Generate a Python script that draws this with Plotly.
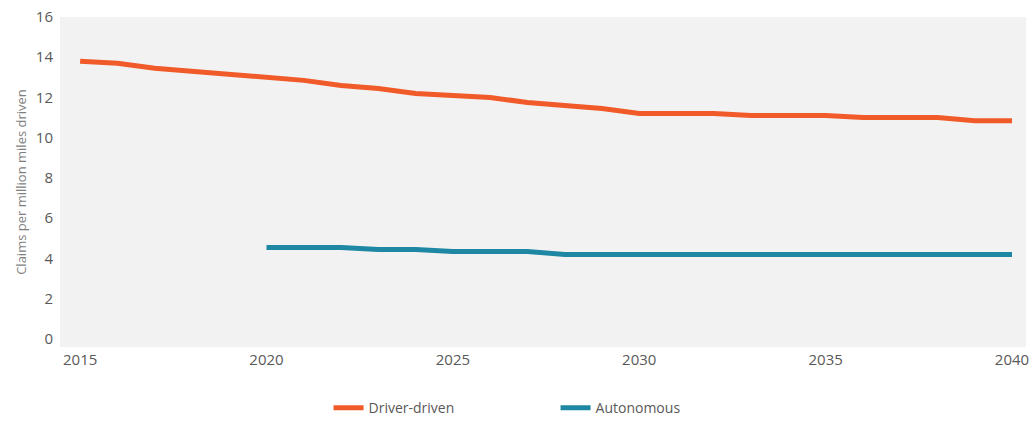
import plotly.graph_objects as go

# Claims per million miles driven, by year
years_driver = list(range(2015, 2041))
claims_driver = [13.8, 13.7, 13.45, 13.3, 13.1, 13.0, 12.85, 12.6, 12.45, 12.2,
                 12.1, 12.0, 11.75, 11.6, 11.45, 11.2, 11.2, 11.2, 11.1, 11.1,
                 11.1, 11.0, 11.0, 11.0, 10.85, 10.85]

years_auto = list(range(2020, 2041))
claims_auto = [4.55, 4.55, 4.55, 4.45, 4.45, 4.35, 4.35, 4.35, 4.2, 4.2,
               4.2, 4.2, 4.2, 4.2, 4.2, 4.2, 4.2, 4.2, 4.2, 4.2, 4.2]

x_ticks = [2015, 2020, 2025, 2030, 2035, 2040]
y_ticks = [0, 2, 4, 6, 8, 10, 12, 14, 16]

ORANGE = "#F15A29"
TEAL = "#1D87A4"
FONT = "Open Sans"

fig = go.Figure()
fig.add_trace(go.Scatter(
    x=years_driver, y=claims_driver, mode="lines", name="Driver-driven",
    line=dict(color=ORANGE, width=5),
))
fig.add_trace(go.Scatter(
    x=years_auto, y=claims_auto, mode="lines", name="Autonomous",
    line=dict(color=TEAL, width=5),
))

fig.update_layout(
    width=1029, height=421,
    margin=dict(l=60, r=3, t=17, b=74, autoexpand=False),
    paper_bgcolor="white",
    plot_bgcolor="#F2F2F2",
    font=dict(family=FONT, color="#595959", size=15),
    showlegend=True,
    legend=dict(
        orientation="h",
        x=0.278, xanchor="left",
        y=-0.185, yanchor="middle",
        font=dict(family=FONT, size=14, color="#595959"),
        entrywidth=182, entrywidthmode="pixels",
        bgcolor="rgba(0,0,0,0)",
    ),
    xaxis=dict(
        range=[2014.46, 2040.375],
        tickvals=x_ticks,
        ticktext=[str(v) for v in x_ticks],
        showgrid=False, zeroline=False, showline=False,
        tickfont=dict(size=15, color="#595959"),
        ticklabeloverflow="allow",
        ticklabelstandoff=2,
    ),
    yaxis=dict(
        range=[-0.4, 16],
        tickvals=y_ticks,
        showgrid=False, zeroline=False, showline=False,
        tickfont=dict(size=15, color="#595959"),
        ticklabelstandoff=6,
        title=dict(text="Claims per million miles driven",
                   font=dict(size=13, color="#7F7F7F"), standoff=6),
    ),
)

fig.write_html("out.html")
